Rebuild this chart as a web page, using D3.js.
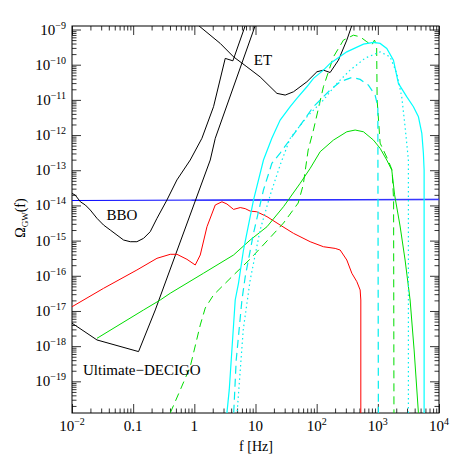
<!DOCTYPE html>
<html lang="en">
<head>
<meta charset="utf-8">
<title>Omega_GW(f)</title>
<script src="https://cdn.jsdelivr.net/npm/d3@7"></script>
<style>
  body { margin: 0; background: #fff; }
  text { font-family: "Liberation Serif", "DejaVu Serif", serif; fill: #000; }
</style>
</head>
<body>
<script>

// sensitivity curves, [f in Hz, Omega_GW]
let bbo = [[0.01,2.2e-14],[0.0113,1.97e-14],[0.0137,1.27e-14],[0.0165,1.03e-14],[0.0199,7.4e-15],
  [0.0256,4.3e-15],[0.0328,2.77e-15],[0.0422,2.0e-15],[0.0543,1.44e-15],[0.0697,1.04e-15],
  [0.0897,9.3e-16],[0.115,9.3e-16],[0.148,1.16e-15],[0.19,1.79e-15],[0.245,4.3e-15],
  [0.356,1.42e-14],[0.519,5.3e-14],[0.857,1.95e-13],[1.33,8.1e-13],[2.06,6.4e-12],
  [3.2,1.51e-10],[4.27,1.29e-10],[6.8,1.3e-9]];
let decigo = [[0.01,4.5e-18],[0.0256,1.5e-18],[0.1225,7.0e-19],[0.23,1.07e-17],
  [1.82,1.95e-13],[2.2,8.1e-13],[9.9,1.3e-9]];
let et = [[1.17,1.3e-9],[2.65,4.03e-10],[4.38,1.67e-10],[7.23,8.7e-11],[11.9,4.5e-11],
  [22.4,1.53e-11],[30.6,1.37e-11],[41.8,1.7e-11],[69.2,3.27e-11],[101,6.3e-11],
  [129,7.0e-11],[166,6.0e-11],[227,1.35e-10],[311,5.0e-10],[376,1.3e-9]];
let blueLine = [[0.01,1.38e-14],[1e4,1.5e-14]];
let blueLine2 = [[0.9,1.4e-14],[1e4,1.47e-14]];

// model spectra
let red = [[0.01,1.32e-17],[0.0328,4.4e-17],[0.115,1.46e-16],[0.245,3.14e-16],[0.404,4.08e-16],
  [0.52,4.08e-16],[0.757,2.94e-16],[1.035,2.03e-16],[1.25,3.9e-16],[1.61,2.48e-15],
  [2.2,1.03e-14],[2.83,1.27e-14],[3.41,1.1e-14],[4.38,7.7e-15],[5.63,8.7e-15],[6.79,8.1e-15],
  [8.19,6.9e-15],[10.5,6.6e-15],[15.4,4.8e-15],[25.3,2.77e-15],[41.8,1.61e-15],[78.3,9.3e-16],
  [129,6.7e-16],[201,6.0e-16],[242,5.4e-16],[311,2.81e-16],[376,1.18e-16],[454,6.8e-17],
  [514,3.95e-17],[527,2.05e-17],[527,1e-21]];
let green = [[0.0256,1.67e-18],[0.148,1.07e-17],[0.277,2.05e-17],[0.404,3.19e-17],[1.41,1.18e-16],
  [4.38,3.9e-16],[8.19,1.04e-15],[15.4,2.48e-15],[28.7,9.2e-15],[53.7,4.25e-14],[78.3,1.13e-13],
  [114,3.36e-13],[188,7.2e-13],[311,1.24e-12],[426,1.39e-12],[582,1.24e-12],[848,7.2e-13],
  [1090,4.19e-13],[1400,1.95e-13],[1690,1.01e-13],[1880,2.0e-14],[2310,2.6e-15],[2790,2.81e-16],
  [3370,2.05e-17],[3920,7.8e-19],[4610,1.26e-20],[4700,1e-21]];
let greenDash = [[0.38,1e-21],[0.404,1.26e-20],[0.589,5.7e-20],[0.857,2.62e-19],[1.25,4.0e-18],
  [1.51,1.22e-17],[2.06,2.85e-17],[4.38,1.05e-16],[8.19,3.0e-16],[15.4,9.75e-16],[28.7,3.16e-15],
  [49.9,1.17e-14],[60.2,3.8e-14],[72.6,3.75e-13],[88.6,1.39e-12],[129,2.36e-11],[188,1.67e-10],
  [274,5.0e-10],[399,6.9e-10],[514,6.2e-10],[661,4.48e-10],[798,3.6e-10],[880,5.0e-10],
  [956,3.6e-10],[974,9.9e-12],[1090,5.9e-13],[1470,1.95e-13],[1710,1.01e-13],[1810,1.42e-14],
  [1840,1e-21]];
let cyan = [[3.41,1e-21],[3.41,1.26e-20],[3.72,5.7e-20],[4.66,2.05e-17],[5.27,6.1e-17],[6.36,5.4e-16],
  [9.27,1.42e-14],[13.5,1.95e-13],[18.5,8.1e-13],[25.3,2.67e-12],[36.9,6.4e-12],[47.5,1.1e-11],
  [69.2,2.36e-11],[88.6,4.08e-11],[129,7.0e-11],[166,1.09e-10],[311,2.32e-10],[582,3.85e-10],
  [848,4.3e-10],[1090,4.03e-10],[1400,2.9e-10],[1800,1.35e-10],[2170,2.94e-11],[2980,1.22e-11],
  [3820,6.4e-12],[4610,3.3e-12],[5240,1.12e-12],[5560,3.0e-13],[5710,1.01e-13],[5710,1e-21]];
let cyanDash = [[4.11,1e-21],[4.84,4.06e-19],[6.0,2.05e-17],[6.79,9.4e-17],[9.27,1.61e-15],
  [13.5,2.74e-14],[18.5,1.57e-13],[25.3,3.08e-13],[47.5,1.39e-12],[88.6,6.4e-12],[166,1.9e-11],
  [242,3.27e-11],[376,4.36e-11],[514,3.82e-11],[702,2.63e-11],[903,1.37e-11],[1000,6.4e-12],
  [1023,1e-21]];
let cyanDot = [[4.49,1e-21],[6.3,2.9e-18],[8.19,7.6e-17],[11.9,2.0e-15],[17.4,1.97e-14],
  [25.3,1.41e-13],[36.9,8.1e-13],[69.2,3.3e-12],[129,9.9e-12],[214,2.94e-11],[352,7.0e-11],
  [621,1.54e-10],[1090,2.32e-10],[1590,1.67e-10],[2040,5.7e-11],[2460,1.22e-11],[2790,1.72e-12],
  [3160,1.95e-13],[3160,1e-21]];

// ticks
let xTicks = [1e-2, 0.1, 1, 10, 1e2, 1e3, 1e4];
let xTickLabels = [["10","\u22122"],["0.1",""],["1",""],["10",""],["10","2"],["10","3"],["10","4"]];
let yTicks = [1e-19, 1e-18, 1e-17, 1e-16, 1e-15, 1e-14, 1e-13, 1e-12, 1e-11, 1e-10, 1e-9];
let yTickLabels = ["\u221219","\u221218","\u221217","\u221216","\u221215","\u221214","\u221213",
  "\u221212","\u221211","\u221210","\u22129"];

let w = 463, h = 463;
let pLeft = 72, pRight = 439, pTop = 26, pBottom = 413;

let x = d3.scaleLog().domain([1e-2, 1e4]).range([pLeft, pRight]);
let y = d3.scaleLog().domain([Math.pow(10, -19.9), Math.pow(10, -8.9)]).range([pBottom, pTop]);

let svg = d3.select("body").append("svg")
  .attr("width", w).attr("height", h);

svg.append("clipPath").attr("id", "plot")
  .append("rect").attr("x", pLeft).attr("y", pTop)
  .attr("width", pRight - pLeft).attr("height", pBottom - pTop);

// minor tick positions
let xMinor = [];
for (let k = -2; k < 4; k++) for (let m = 2; m < 10; m++) xMinor.push(m * Math.pow(10, k));
let yMinor = [];
for (let k = -20; k < -8; k++) for (let m = 2; m < 10; m++) {
  let v = m * Math.pow(10, k);
  if (v > y.domain()[0] && v < y.domain()[1]) yMinor.push(v);
}

function addAxis(axis, tr, vals, size) {
  let g = svg.append("g").attr("transform", tr)
    .call(axis.tickValues(vals).tickSizeInner(-size).tickSizeOuter(0).tickFormat(""));
  g.select(".domain").remove();
  g.selectAll("line").attr("stroke", "#000").attr("stroke-width", 0.8);
}
addAxis(d3.axisBottom(x), `translate(0,${pBottom})`, xTicks, 9);
addAxis(d3.axisBottom(x), `translate(0,${pBottom})`, xMinor, 4.5);
addAxis(d3.axisTop(x), `translate(0,${pTop})`, xTicks, 9);
addAxis(d3.axisTop(x), `translate(0,${pTop})`, xMinor, 4.5);
addAxis(d3.axisLeft(y), `translate(${pLeft},0)`, yTicks, 9);
addAxis(d3.axisLeft(y), `translate(${pLeft},0)`, yMinor, 4.5);
addAxis(d3.axisRight(y), `translate(${pRight},0)`, yTicks, 9);
addAxis(d3.axisRight(y), `translate(${pRight},0)`, yMinor, 4.5);

svg.append("rect")
  .attr("x", pLeft).attr("y", pTop)
  .attr("width", pRight - pLeft).attr("height", pBottom - pTop)
  .attr("fill", "none").attr("stroke", "#000").attr("stroke-width", 1);

// tick labels
xTicks.forEach((v, i) => {
  let t = svg.append("text")
    .attr("x", x(v)).attr("y", 431)
    .attr("text-anchor", "middle").attr("font-size", 15);
  t.append("tspan").text(xTickLabels[i][0]);
  if (xTickLabels[i][1]) t.append("tspan").attr("dy", -6).attr("font-size", 10).text(xTickLabels[i][1]);
});
yTicks.forEach((v, i) => {
  let t = svg.append("text")
    .attr("x", 66).attr("y", y(v) + 5)
    .attr("text-anchor", "end").attr("font-size", 15);
  t.append("tspan").text("10");
  t.append("tspan").attr("dy", -6).attr("font-size", 10).text(yTickLabels[i]);
});

// axis titles
svg.append("text")
  .attr("x", 256).attr("y", 451)
  .attr("text-anchor", "middle").attr("font-size", 14)
  .text("f [Hz]");
let yl = svg.append("text")
  .attr("transform", "translate(25,218) rotate(-90)")
  .attr("text-anchor", "middle").attr("font-size", 14);
yl.append("tspan").text("\u03a9");
yl.append("tspan").attr("dy", 3).attr("font-size", 9).text("GW");
yl.append("tspan").attr("dy", -3).text("(f)");

// curves
let line = d3.line().x(d => x(d[0])).y(d => y(d[1]));
let plot = svg.append("g").attr("clip-path", "url(#plot)");

let series = [
  {data: blueLine, color: "#0000ff", width: 1, dash: null},
  {data: blueLine2, color: "#3a3aff", width: 1.2, dash: null},
  {data: bbo, color: "#000", width: 1, dash: null},
  {data: decigo, color: "#000", width: 1, dash: null},
  {data: et, color: "#000", width: 1, dash: null},
  {data: red, color: "#ff0000", width: 1, dash: null},
  {data: green, color: "#00dd00", width: 1, dash: null},
  {data: greenDash, color: "#00dd00", width: 1, dash: "8,5"},
  {data: cyan, color: "#00ffff", width: 1.2, dash: null},
  {data: cyanDash, color: "#00eeee", width: 1.2, dash: "8,5"},
  {data: cyanDot, color: "#00eeee", width: 1.2, dash: "1.5,3"}
];

plot.selectAll("path")
  .data(series)
  .enter()
  .append("path")
  .attr("d", d => line(d.data))
  .attr("fill", "none")
  .attr("stroke", d => d.color)
  .attr("stroke-width", d => d.width)
  .attr("stroke-dasharray", d => d.dash);

// curve names
svg.append("text").attr("x", 263).attr("y", 65).attr("text-anchor", "middle")
  .attr("font-size", 15).text("ET");
svg.append("text").attr("x", 122).attr("y", 220).attr("text-anchor", "middle")
  .attr("font-size", 15).text("BBO");
svg.append("text").attr("x", 83).attr("y", 375)
  .attr("font-size", 15).text("Ultimate\u2212DECIGO");

</script>
</body>
</html>
